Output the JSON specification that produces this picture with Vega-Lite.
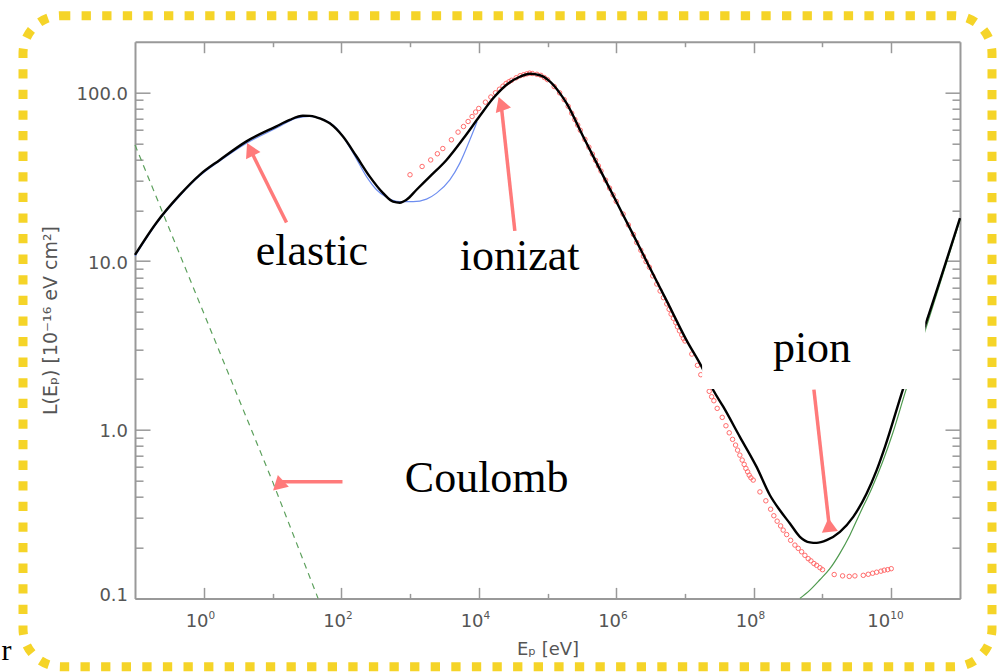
{
  "$schema": "https://vega.github.io/schema/vega-lite/v6.json",
  "width": 969,
  "height": 651,
  "autosize": "none",
  "padding": {"left": 23, "top": 15.7, "right": 10, "bottom": 5},
  "background": "white",
  "config": {
    "view": {"stroke": "#F5D428", "strokeWidth": 9, "strokeDash": [9.3, 11.3], "cornerRadius": 38, "fill": "white"},
    "axis": {"grid": false, "labelOverlap": false, "labelFlush": false, "titleFontWeight": "normal"}
  },
  "datasets": {
    "coulomb": [
      {"E": 0.1, "L": 48.9}, {"E": 10.1, "L": 0.489}, {"E": 46, "L": 0.1}
    ],
    "elastic": [
      {"E": 0.1, "L": 10.7}, {"E": 0.205, "L": 16.7}, {"E": 0.448, "L": 24.4}, {"E": 0.875, "L": 32.0},
      {"E": 1.71, "L": 39.2}, {"E": 4.18, "L": 50.0}, {"E": 11.4, "L": 61.5}, {"E": 22.3, "L": 70.5},
      {"E": 34.8, "L": 72.2}, {"E": 48.6, "L": 70.6}, {"E": 85.3, "L": 61.4}, {"E": 149, "L": 43.7},
      {"E": 233, "L": 31.7}, {"E": 326, "L": 26.5}, {"E": 455, "L": 23.9}, {"E": 711, "L": 22.5},
      {"E": 1109, "L": 22.5}, {"E": 1738, "L": 23.3}, {"E": 2432, "L": 25.3}, {"E": 3796, "L": 30.3},
      {"E": 5309, "L": 38.1}, {"E": 7430, "L": 52.4}, {"E": 9470, "L": 67.3}
    ],
    "pion": [
      {"E": 469000000, "L": 0.1}, {"E": 656000000, "L": 0.112}, {"E": 916000000, "L": 0.129},
      {"E": 1280000000, "L": 0.15}, {"E": 1790000000, "L": 0.185}, {"E": 2500000000, "L": 0.237},
      {"E": 3500000000, "L": 0.319}, {"E": 5200000000, "L": 0.449}, {"E": 7500000000, "L": 0.646},
      {"E": 10300000000, "L": 0.93}, {"E": 16000000000, "L": 1.67}, {"E": 31000000000, "L": 3.85},
      {"E": 100000000000, "L": 17.5}
    ],
    "ionization": [
      {"E": 1000, "L": 32.5}, {"E": 1500, "L": 36.4}, {"E": 2000, "L": 39.8}, {"E": 2500, "L": 43.3},
      {"E": 3000, "L": 46.5}, {"E": 4000, "L": 52.4}, {"E": 5000, "L": 58.2}, {"E": 6000, "L": 62.8},
      {"E": 7000, "L": 67.3}, {"E": 8000, "L": 72.0}, {"E": 9000, "L": 76.5},
      {"E": 10000, "L": 80.4}, {"E": 12500, "L": 87.6}, {"E": 15000, "L": 94.0}, {"E": 17500, "L": 99.6},
      {"E": 20000, "L": 104.5}, {"E": 22500, "L": 109.0}, {"E": 25000, "L": 113.2}, {"E": 27500, "L": 115.8},
      {"E": 30000, "L": 118.1}, {"E": 35000, "L": 122.2}, {"E": 40000, "L": 125.7}, {"E": 45000, "L": 127.4},
      {"E": 50000, "L": 128.9}, {"E": 55000, "L": 130.2}, {"E": 60000, "L": 129.6}, {"E": 70000, "L": 128.1},
      {"E": 80000, "L": 126.3}, {"E": 90000, "L": 122.5},
      {"E": 100000, "L": 119.1}, {"E": 125000, "L": 108.4}, {"E": 150000, "L": 99.5}, {"E": 175000, "L": 90.7},
      {"E": 200000, "L": 82.8}, {"E": 225000, "L": 75.3}, {"E": 250000, "L": 69.1}, {"E": 275000, "L": 64.1},
      {"E": 300000, "L": 59.7}, {"E": 350000, "L": 52.7}, {"E": 400000, "L": 47.4}, {"E": 450000, "L": 43.1},
      {"E": 500000, "L": 39.6}, {"E": 550000, "L": 36.7}, {"E": 600000, "L": 34.2}, {"E": 700000, "L": 30.2},
      {"E": 800000, "L": 27.1}, {"E": 900000, "L": 24.7},
      {"E": 1000000, "L": 22.6}, {"E": 1259000, "L": 19.0}, {"E": 1500000, "L": 16.4}, {"E": 1774000, "L": 14.4},
      {"E": 1986000, "L": 12.9}, {"E": 2275000, "L": 11.6}, {"E": 2483000, "L": 10.7}, {"E": 2716000, "L": 9.93},
      {"E": 3034000, "L": 9.2}, {"E": 3396000, "L": 8.17}, {"E": 3890000, "L": 7.31}, {"E": 4345000, "L": 6.65},
      {"E": 4853000, "L": 6.07}, {"E": 5433000, "L": 5.57}, {"E": 5875000, "L": 5.18}, {"E": 6281000, "L": 4.85},
      {"E": 6776000, "L": 4.58}, {"E": 7345000, "L": 4.32}, {"E": 7762000, "L": 4.08}, {"E": 8299000, "L": 3.86},
      {"E": 8974000, "L": 3.65}, {"E": 9484000, "L": 3.48},
      {"E": 10000000, "L": 3.36}, {"E": 12560000, "L": 2.81}, {"E": 15170000, "L": 2.41}, {"E": 16980000, "L": 2.12},
      {"E": 20000000, "L": 1.85}, {"E": 22500000, "L": 1.69}, {"E": 24400000, "L": 1.57}, {"E": 26300000, "L": 1.486},
      {"E": 29400000, "L": 1.339}, {"E": 34800000, "L": 1.184}, {"E": 39400000, "L": 1.056}, {"E": 44000000, "L": 0.959},
      {"E": 49200000, "L": 0.877}, {"E": 54400000, "L": 0.811}, {"E": 58200000, "L": 0.757}, {"E": 62800000, "L": 0.707},
      {"E": 67900000, "L": 0.661}, {"E": 72600000, "L": 0.623}, {"E": 76900000, "L": 0.59}, {"E": 81500000, "L": 0.563},
      {"E": 85900000, "L": 0.538}, {"E": 91000000, "L": 0.519}, {"E": 98200000, "L": 0.503},
      {"E": 123000000, "L": 0.428}, {"E": 150000000, "L": 0.379}, {"E": 176000000, "L": 0.338}, {"E": 196000000, "L": 0.309},
      {"E": 219000000, "L": 0.287}, {"E": 246000000, "L": 0.269}, {"E": 268000000, "L": 0.254}, {"E": 301000000, "L": 0.239},
      {"E": 344000000, "L": 0.221}, {"E": 397000000, "L": 0.207}, {"E": 444000000, "L": 0.198}, {"E": 497000000, "L": 0.189},
      {"E": 555000000, "L": 0.18}, {"E": 620000000, "L": 0.172}, {"E": 679000000, "L": 0.167}, {"E": 750000000, "L": 0.161},
      {"E": 822000000, "L": 0.157}, {"E": 918000000, "L": 0.152}, {"E": 1000000000, "L": 0.148},
      {"E": 1480000000, "L": 0.1385}, {"E": 1960000000, "L": 0.136}, {"E": 2450000000, "L": 0.135}, {"E": 2960000000, "L": 0.136},
      {"E": 3920000000, "L": 0.137}, {"E": 4630000000, "L": 0.139}, {"E": 5360000000, "L": 0.141}, {"E": 6130000000, "L": 0.143},
      {"E": 7080000000, "L": 0.145}, {"E": 7910000000, "L": 0.147}, {"E": 8870000000, "L": 0.148}, {"E": 10000000000, "L": 0.15}
    ],
    "total": [
      {"E": 0.1, "L": 10.9}, {"E": 0.205, "L": 16.9}, {"E": 0.448, "L": 24.7}, {"E": 0.875, "L": 32.5},
      {"E": 1.71, "L": 39.8}, {"E": 4.18, "L": 51.3}, {"E": 11.4, "L": 63.0}, {"E": 17.8, "L": 68.8},
      {"E": 27.6, "L": 72.7}, {"E": 34.8, "L": 72.6}, {"E": 43.6, "L": 71.2}, {"E": 68.1, "L": 65.6},
      {"E": 106, "L": 54.8}, {"E": 167, "L": 41.7}, {"E": 260, "L": 31.7}, {"E": 406, "L": 25.3},
      {"E": 568, "L": 22.5}, {"E": 711, "L": 22.2}, {"E": 889, "L": 23.1}, {"E": 1245, "L": 26.5},
      {"E": 1941, "L": 31.7}, {"E": 3396, "L": 39.8}, {"E": 5929, "L": 53.1}, {"E": 10400, "L": 72.7},
      {"E": 16200, "L": 92.3}, {"E": 25400, "L": 111.1}, {"E": 39600, "L": 123.9}, {"E": 55300, "L": 129.1},
      {"E": 77400, "L": 126.5}, {"E": 108000, "L": 116.2}, {"E": 151000, "L": 99.1}, {"E": 189000, "L": 86.5},
      {"E": 330000, "L": 54.8}, {"E": 578000, "L": 35.0}, {"E": 1010000, "L": 22.4}, {"E": 1770000, "L": 14.3},
      {"E": 3080000, "L": 9.13}, {"E": 5400000, "L": 5.83}, {"E": 10500000, "L": 3.4}, {"E": 17400000, "L": 2.37},
      {"E": 25700000, "L": 1.72}, {"E": 36000000, "L": 1.37}, {"E": 62800000, "L": 0.908}, {"E": 110000000, "L": 0.602},
      {"E": 172000000, "L": 0.409}, {"E": 240000000, "L": 0.333}, {"E": 336000000, "L": 0.278}, {"E": 469000000, "L": 0.232},
      {"E": 656000000, "L": 0.215}, {"E": 822000000, "L": 0.2134}, {"E": 1148000000, "L": 0.2214}, {"E": 1795000000, "L": 0.248},
      {"E": 2800000000, "L": 0.3044}, {"E": 4385000000, "L": 0.419}, {"E": 6140000000, "L": 0.576}, {"E": 8110000000, "L": 0.792},
      {"E": 14960000000, "L": 1.76}, {"E": 30900000000, "L": 4.12}, {"E": 100000000000, "L": 18.0}
    ],
    "backdrop": [
      {"E": 17740000, "E2": 31260000000, "L": 1.744, "L2": 5.88}
    ],
    "arrows": [
      {"label": "elastic", "E": 15.97, "L": 16.92, "E2": 4.73, "L2": 46.0},
      {"label": "ionizat", "E": 33500, "L": 15.1, "E2": 21100, "L2": 85.8},
      {"label": "Coulomb", "E": 104.2, "L": 0.491, "E2": 12.6, "L2": 0.491},
      {"label": "pion", "E": 750000000, "L": 1.73, "E2": 1249000000, "L2": 0.2725}
    ],
    "notes": [
      {"label": "elastic", "E": 5.71, "L": 9.49},
      {"label": "ionizat", "E": 5305, "L": 8.86},
      {"label": "Coulomb", "E": 840.6, "L": 0.428},
      {"label": "pion", "E": 190000000, "L": 2.53},
      {"label": "r", "E": 0.001142, "L": 0.043}
    ]
  },
  "encoding": {
    "x": {"field": "E", "type": "quantitative", "scale": {"type": "log", "domain": [0.1, 100000000000], "range": [112, 937], "nice": false}, "axis": null},
    "y": {"field": "L", "type": "quantitative", "scale": {"type": "log", "domain": [0.1, 200], "range": [582.7, 26], "nice": false}, "axis": null}
  },
  "layer": [
    {
      "data": {"name": "coulomb"},
      "mark": {"type": "line", "color": "#5CA05C", "strokeWidth": 1.2, "strokeDash": [6, 5]},
      "encoding": {
        "x": {"field": "E", "type": "quantitative", "scale": {"type": "log", "domain": [0.1, 100000000000], "range": [112, 937], "nice": false},
          "axis": {"orient": "bottom", "offset": -68.3, "values": [1, 100, 10000, 1000000, 100000000, 10000000000],
            "ticks": false, "domain": false, "labelExpr": "'10'", "labelAlign": "right", "labelBaseline": "top",
            "labelOffset": {"condition": {"test": "datum.value > 1e9", "value": -1.5}, "value": 4.3},
            "labelPadding": 13.8, "labelFont": "DejaVu Sans", "labelFontSize": 18, "labelColor": "#555555",
            "title": "Eₚ [eV]", "titleFont": "DejaVu Sans", "titleFontSize": 18, "titleColor": "#555555", "titlePadding": 10}},
        "y": {"field": "L", "type": "quantitative", "scale": {"type": "log", "domain": [0.1, 200], "range": [582.7, 26], "nice": false},
          "axis": {"orient": "left", "offset": -112, "values": [0.1, 1, 10, 100], "format": ".1f",
            "ticks": false, "domain": false, "labelPadding": 7.5, "labelBaseline": "middle",
            "labelOffset": {"condition": {"test": "datum.value < 0.5", "value": -3}, "value": 2},
            "labelFont": "DejaVu Sans", "labelFontSize": 18, "labelColor": "#555555",
            "title": "L(Eₚ) [10⁻¹⁶ eV cm²]", "titleFont": "DejaVu Sans", "titleFontSize": 19, "titleColor": "#555555", "titlePadding": 15}}
      }
    },
    {
      "data": {"name": "elastic"},
      "mark": {"type": "line", "color": "#6E8EF0", "strokeWidth": 1.2, "interpolate": "monotone"},
      "encoding": {
        "x": {"field": "E", "type": "quantitative", "scale": {"type": "log", "domain": [0.1, 100000000000], "range": [112, 937], "nice": false},
          "axis": {"orient": "bottom", "offset": -68.3, "values": [1, 100, 10000, 1000000, 100000000, 10000000000],
            "ticks": false, "domain": false, "labelExpr": "format(round(log(datum.value) / LN10), 'd')",
            "labelAlign": "left", "labelBaseline": "top",
            "labelOffset": {"condition": {"test": "datum.value > 1e9", "value": -1.5}, "value": 4.3},
            "labelPadding": 12, "labelFont": "DejaVu Sans", "labelFontSize": 10.5, "labelColor": "#555555", "title": null}},
        "y": {"field": "L", "type": "quantitative", "scale": {"type": "log", "domain": [0.1, 200], "range": [582.7, 26], "nice": false},
          "axis": {"orient": "left", "offset": -112,
            "values": [0.1, 0.2, 0.3, 0.4, 0.5, 0.6, 0.7, 0.8, 0.9, 1, 2, 3, 4, 5, 6, 7, 8, 9, 10, 20, 30, 40, 50, 60, 70, 80, 90, 100],
            "labels": false,
            "tickSize": {"condition": {"test": "datum.value == 0.1 || datum.value == 1 || datum.value == 10 || datum.value == 100", "value": -15}, "value": -8},
            "tickColor": "#999999", "tickWidth": 1.5, "domain": true, "domainColor": "#999999", "domainWidth": 2, "title": null}}
      }
    },
    {
      "data": {"name": "pion"},
      "mark": {"type": "line", "color": "#4F9A4F", "strokeWidth": 1.2, "interpolate": "monotone"},
      "encoding": {
        "x": {"field": "E", "type": "quantitative", "scale": {"type": "log", "domain": [0.1, 100000000000], "range": [112, 937], "nice": false},
          "axis": {"orient": "bottom", "offset": -68.3,
            "values": [1, 10, 100, 1000, 10000, 100000, 1000000, 10000000, 100000000, 1000000000, 10000000000],
            "labels": false,
            "tickSize": {"condition": {"test": "round(log(datum.value) / LN10) % 2 == 0", "value": -11}, "value": -5},
            "tickColor": "#999999", "tickWidth": 1.5, "domain": true, "domainColor": "#999999", "domainWidth": 2, "title": null}},
        "y": {"field": "L", "type": "quantitative", "scale": {"type": "log", "domain": [0.1, 200], "range": [582.7, 26], "nice": false},
          "axis": {"orient": "right", "offset": -32,
            "values": [0.1, 0.2, 0.3, 0.4, 0.5, 0.6, 0.7, 0.8, 0.9, 1, 2, 3, 4, 5, 6, 7, 8, 9, 10, 20, 30, 40, 50, 60, 70, 80, 90, 100],
            "labels": false,
            "tickSize": {"condition": {"test": "datum.value == 0.1 || datum.value == 1 || datum.value == 10 || datum.value == 100", "value": -15}, "value": -8},
            "tickColor": "#999999", "tickWidth": 1.5, "domain": true, "domainColor": "#999999", "domainWidth": 2, "title": null}}
      }
    },
    {
      "data": {"name": "ionization"},
      "mark": {"type": "point", "shape": "circle", "filled": false, "size": 20, "strokeWidth": 1, "color": "#FF6A6A", "opacity": 1},
      "encoding": {
        "x": {"field": "E", "type": "quantitative", "scale": {"type": "log", "domain": [0.1, 100000000000], "range": [112, 937], "nice": false},
          "axis": {"orient": "top", "offset": -26,
            "values": [1, 10, 100, 1000, 10000, 100000, 1000000, 10000000, 100000000, 1000000000, 10000000000],
            "labels": false,
            "tickSize": {"condition": {"test": "round(log(datum.value) / LN10) % 2 == 0", "value": -11}, "value": -5},
            "tickColor": "#999999", "tickWidth": 1.5, "domain": true, "domainColor": "#999999", "domainWidth": 2, "title": null}}
      }
    },
    {
      "data": {"name": "total"},
      "mark": {"type": "line", "color": "#000000", "strokeWidth": 2.4, "interpolate": "monotone"}
    },
    {
      "data": {"name": "backdrop"},
      "mark": {"type": "rect", "fill": "white", "stroke": null},
      "encoding": {
        "x2": {"field": "E2"},
        "y2": {"field": "L2"}
      }
    },
    {
      "data": {"name": "arrows"},
      "mark": {"type": "rule", "color": "#FF7A7A", "strokeWidth": 3.5},
      "encoding": {
        "x2": {"field": "E2"},
        "y2": {"field": "L2"}
      }
    },
    {
      "data": {"name": "arrows"},
      "mark": {"type": "point", "shape": "triangle-up", "filled": true, "size": 260, "color": "#FF7A7A", "opacity": 1, "strokeWidth": 0},
      "encoding": {
        "x": {"field": "E2", "type": "quantitative", "scale": {"type": "log", "domain": [0.1, 100000000000], "range": [112, 937], "nice": false}, "axis": null},
        "y": {"field": "L2", "type": "quantitative", "scale": {"type": "log", "domain": [0.1, 200], "range": [582.7, 26], "nice": false}, "axis": null},
        "angle": {"field": "label", "type": "nominal",
          "scale": {"domain": ["elastic", "ionizat", "Coulomb", "pion"], "range": [333.6, 353.8, 270, 173.6]}, "legend": null}
      }
    },
    {
      "data": {"name": "notes"},
      "mark": {"type": "text", "font": "Liberation Serif", "align": "left", "baseline": "alphabetic", "color": "#000000"},
      "encoding": {
        "text": {"field": "label"},
        "size": {"condition": {"test": "datum.label == 'r'", "value": 30}, "value": 44}
      }
    }
  ],
  "resolve": {"axis": {"x": "independent", "y": "independent"}}
}
